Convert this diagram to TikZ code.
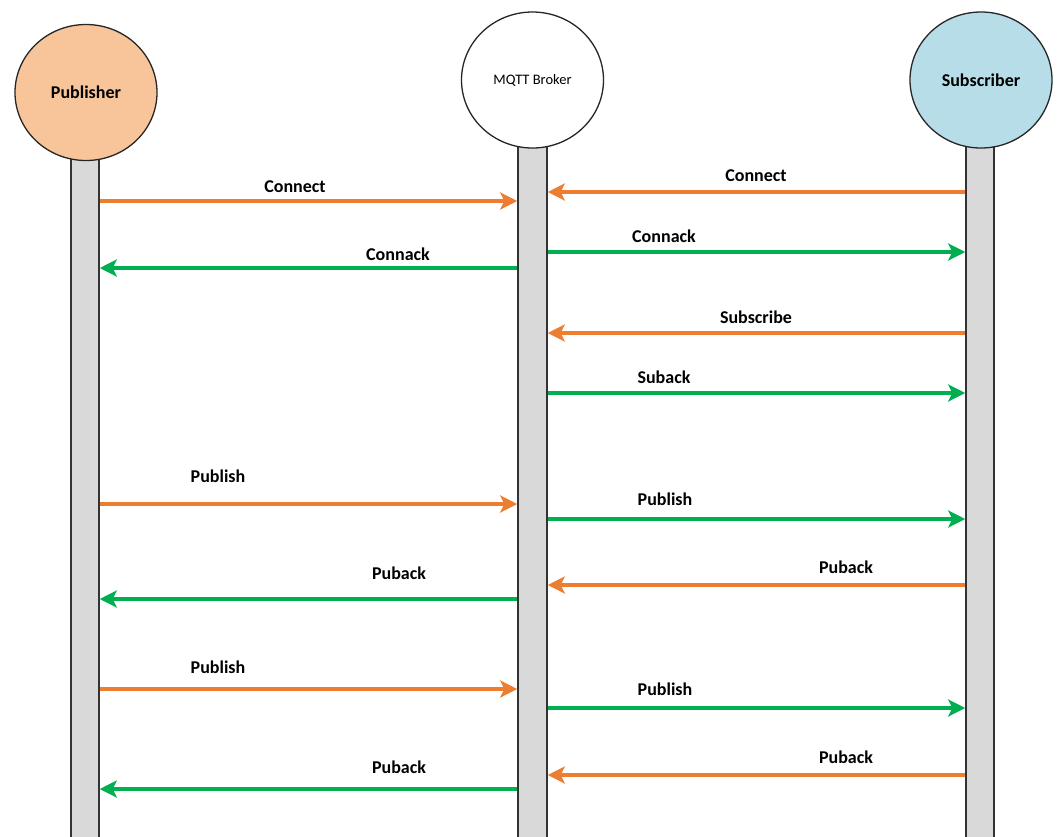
\documentclass[tikz,border=0pt]{standalone}
\usepackage{fontspec}
\setmainfont{Carlito}
\usetikzlibrary{shapes.geometric,arrows.meta}
\definecolor{oline}{HTML}{ED7D31}
\definecolor{gline}{HTML}{00B050}
\definecolor{pubfill}{HTML}{F8C59B}
\definecolor{subfill}{HTML}{B7DDE8}
\definecolor{barfill}{HTML}{D9D9D9}
\definecolor{barline}{HTML}{333333}
\begin{document}
\begin{tikzpicture}[x=1pt,y=-1pt,
  actor/.style={ellipse,draw=black!85,line width=1.3pt,minimum width=142pt,minimum height=136pt,inner sep=0pt},
  lifebar/.style={rectangle,draw=barline,fill=barfill,line width=1.5pt,minimum width=28pt,inner sep=0pt,anchor=north},
  msg/.style={line width=3.2pt,-{Stealth[length=17pt,width=17pt,inset=4pt]}},
  omsg/.style={msg,draw=oline,color=oline},
  gmsg/.style={msg,draw=gline,color=gline},
  lbl/.style={font=\fontsize{18}{20}\selectfont\bfseries,inner sep=0pt,text depth=0pt}]
\useasboundingbox (0,0) rectangle (1057,836);
\clip (0,0) rectangle (1057,836);
\fill[white] (0,0) rectangle (1057,836);
% lifelines
\node[lifebar,minimum height=700pt] (pbar) at (85,150) {};
\node[lifebar,minimum width=29pt,minimum height=710pt] (bbar) at (532.5,138) {};
\node[lifebar,minimum height=710pt] (sbar) at (980,138) {};
% actors
\node[actor,fill=pubfill] (pub) at (86,92.5) {\fontsize{18}{20}\selectfont\bfseries Publisher};
\node[actor,fill=white] (brk) at (532.5,80) {\fontsize{14.5}{16}\selectfont MQTT Broker};
\node[actor,fill=subfill] (sub) at (981,80) {\fontsize{18}{20}\selectfont\bfseries Subscriber};
% messages
\draw[omsg] (pbar.east |- 0,201) -- (bbar.west |- 0,201);
\node[lbl] (l1) at (295,187) {Connect};
\draw[omsg] (sbar.west |- 0,192) -- (bbar.east |- 0,192);
\node[lbl] (l2) at (756,176) {Connect};
\draw[gmsg] (bbar.east |- 0,252) -- (sbar.west |- 0,252);
\node[lbl] (l3) at (664,236) {Connack};
\draw[gmsg] (bbar.west |- 0,268) -- (pbar.east |- 0,268);
\node[lbl] (l4) at (398,254) {Connack};
\draw[omsg] (sbar.west |- 0,333) -- (bbar.east |- 0,333);
\node[lbl] (l5) at (756,317) {Subscribe};
\draw[gmsg] (bbar.east |- 0,393) -- (sbar.west |- 0,393);
\node[lbl] (l6) at (664,377) {Suback};
\draw[omsg] (pbar.east |- 0,504) -- (bbar.west |- 0,504);
\node[lbl] (l7) at (218,476) {Publish};
\draw[gmsg] (bbar.east |- 0,519) -- (sbar.west |- 0,519);
\node[lbl] (l8) at (665,499) {Publish};
\draw[omsg] (sbar.west |- 0,585) -- (bbar.east |- 0,585);
\node[lbl] (l9) at (846,567) {Puback};
\draw[gmsg] (bbar.west |- 0,599) -- (pbar.east |- 0,599);
\node[lbl] (l10) at (399,573) {Puback};
\draw[omsg] (pbar.east |- 0,689) -- (bbar.west |- 0,689);
\node[lbl] (l11) at (218,667) {Publish};
\draw[gmsg] (bbar.east |- 0,708) -- (sbar.west |- 0,708);
\node[lbl] (l12) at (665,689) {Publish};
\draw[omsg] (sbar.west |- 0,775) -- (bbar.east |- 0,775);
\node[lbl] (l13) at (846,757) {Puback};
\draw[gmsg] (bbar.west |- 0,789) -- (pbar.east |- 0,789);
\node[lbl] (l14) at (399,767) {Puback};
\end{tikzpicture}
\end{document}
